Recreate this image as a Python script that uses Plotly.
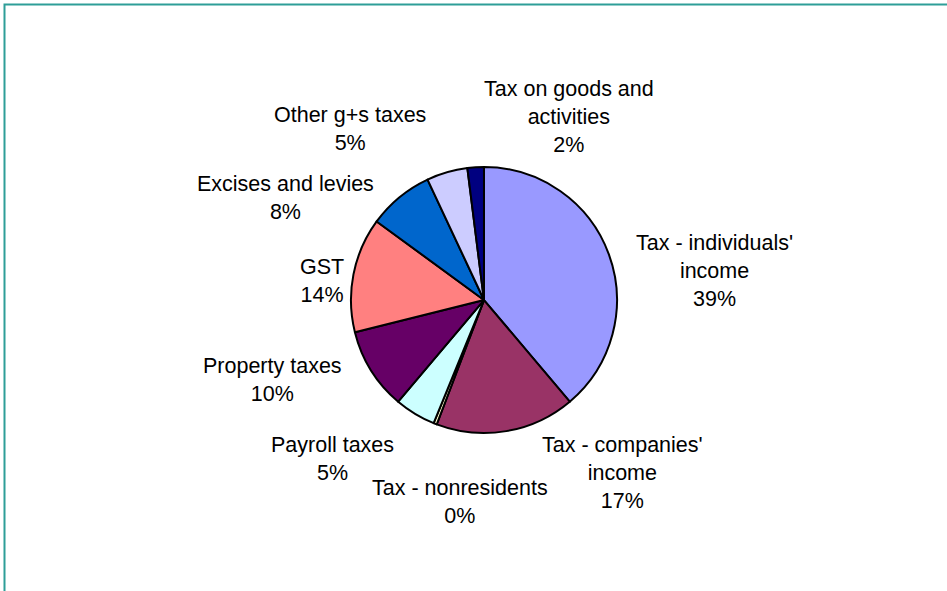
import plotly.graph_objects as go

# Revenue shares by tax type (percent of total)
categories = [
    "Tax - individuals' income",
    "Tax - companies' income",
    "Tax - nonresidents",
    "Payroll taxes",
    "Property taxes",
    "GST",
    "Excises and levies",
    "Other g+s taxes",
    "Tax on goods and activities",
]
# how each category name is broken over lines in its label
label_lines = [
    ["Tax - individuals'", "income"],
    ["Tax - companies'", "income"],
    ["Tax - nonresidents"],
    ["Payroll taxes"],
    ["Property taxes"],
    ["GST"],
    ["Excises and levies"],
    ["Other g+s taxes"],
    ["Tax on goods and", "activities"],
]
shares = [39, 17, 0.4, 5, 10, 14, 8, 5, 2]
slice_colors = [
    "#9999FF", "#993366", "#FFFFCC", "#CCFFFF", "#660066",
    "#FF8080", "#0066CC", "#CCCCFF", "#000080",
]

W, H = 947, 591
FONT = "Liberation Sans, Arial, sans-serif"

# label block centres in pixels (layout only)
label_pos = [
    (714, 271), (622, 473), (460, 502), (332, 459), (272, 380),
    (322, 281), (285, 198), (350, 129), (569, 117),
]

fig = go.Figure(
    go.Pie(
        labels=categories,
        values=shares,
        sort=False,
        direction="clockwise",
        rotation=0,
        marker=dict(colors=slice_colors, line=dict(color="black", width=2)),
        textinfo="none",
        domain=dict(x=[0.3706, 0.6515], y=[0.2673, 0.7174]),
        showlegend=False,
    )
)

total = sum(shares)
for lines, v, (px, py) in zip(label_lines, shares, label_pos):
    text = "<br>".join(lines + [f"{v / total:.0%}"])
    fig.add_annotation(
        text=text, xref="paper", yref="paper",
        x=px / W, y=1 - py / H, xanchor="center", yanchor="middle",
        showarrow=False, align="center",
        font=dict(family=FONT, size=21.5, color="black"),
    )

# teal frame around the chart area
fig.add_shape(
    type="rect", xref="paper", yref="paper",
    x0=4.5 / W, x1=1.05, y0=-0.05, y1=1 - 4.5 / H,
    line=dict(color="#2E9E98", width=2),
)

fig.update_layout(
    width=W, height=H,
    margin=dict(l=0, r=0, t=0, b=0),
    paper_bgcolor="white",
    plot_bgcolor="white",
    font=dict(family=FONT, size=21.5, color="black"),
)

fig.write_html("out.html")
